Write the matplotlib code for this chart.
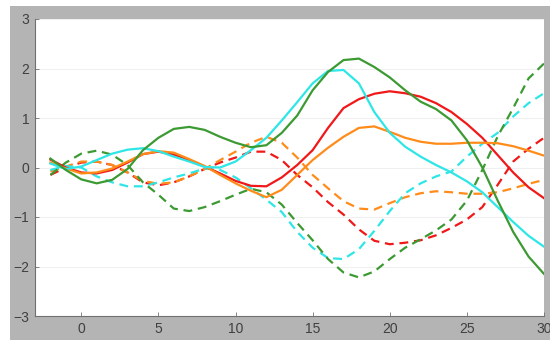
import numpy as np
import matplotlib
matplotlib.use("Agg")
import matplotlib.pyplot as plt
from matplotlib.patches import Rectangle

x = list(range(-2, 31))

red_solid = [0.16, 0.0, -0.1, -0.12, -0.05, 0.1, 0.27, 0.32, 0.26, 0.15, 0.02, -0.12, -0.27,
             -0.37, -0.38, -0.2, 0.05, 0.35, 0.8, 1.2, 1.38, 1.49, 1.54, 1.5, 1.43, 1.3, 1.12,
             0.88, 0.6, 0.25, -0.1, -0.4, -0.62]
orange_solid = [0.1, -0.02, -0.12, -0.1, -0.02, 0.12, 0.27, 0.33, 0.3, 0.17, 0.03, -0.15, -0.32,
                -0.47, -0.6, -0.45, -0.15, 0.15, 0.4, 0.62, 0.8, 0.83, 0.72, 0.6, 0.52, 0.48, 0.48,
                0.5, 0.5, 0.49, 0.43, 0.34, 0.24]
cyan_solid = [0.08, -0.03, 0.02, 0.15, 0.28, 0.36, 0.39, 0.33, 0.22, 0.12, 0.01, 0.0, 0.12,
              0.35, 0.6, 0.95, 1.32, 1.7, 1.95, 1.97, 1.7, 1.12, 0.7, 0.42, 0.22, 0.05, -0.1,
              -0.28, -0.5, -0.8, -1.1, -1.38, -1.6]
green_solid = [0.18, -0.05, -0.24, -0.32, -0.25, -0.03, 0.35, 0.6, 0.78, 0.82, 0.76, 0.62, 0.5,
               0.41, 0.45, 0.7, 1.05, 1.56, 1.93, 2.17, 2.2, 2.03, 1.82, 1.56, 1.33, 1.18, 0.95,
               0.55, 0.0, -0.67, -1.3, -1.8, -2.15]

red_dashed = [-0.15, 0.0, 0.1, 0.12, 0.05, -0.1, -0.3, -0.36, -0.3, -0.18, -0.03, 0.1, 0.2,
              0.32, 0.32, 0.15, -0.15, -0.4, -0.7, -0.95, -1.25, -1.48, -1.55, -1.52, -1.47,
              -1.37, -1.22, -1.05, -0.8, -0.35, 0.12, 0.38, 0.6]
orange_dashed = [-0.08, 0.02, 0.12, 0.12, 0.05, -0.1, -0.27, -0.33, -0.3, -0.18, -0.03, 0.15,
                 0.32, 0.5, 0.62, 0.5, 0.2, -0.15, -0.42, -0.68, -0.83, -0.85, -0.72, -0.6,
                 -0.52, -0.48, -0.5, -0.53, -0.53, -0.5, -0.42, -0.33, -0.25]
cyan_dashed = [-0.05, 0.03, 0.0, -0.18, -0.3, -0.38, -0.38, -0.3, -0.2, -0.12, -0.02, -0.05,
               -0.2, -0.42, -0.65, -0.9, -1.3, -1.62, -1.83, -1.85, -1.65, -1.28, -0.88, -0.52,
               -0.32, -0.18, -0.08, 0.22, 0.48, 0.7, 1.03, 1.3, 1.5]
green_dashed = [-0.15, 0.1, 0.28, 0.34, 0.26, 0.05, -0.3, -0.55, -0.83, -0.88, -0.8, -0.68,
                -0.55, -0.43, -0.5, -0.75, -1.12, -1.47, -1.85, -2.12, -2.22, -2.1, -1.85,
                -1.62, -1.45, -1.27, -1.05, -0.67, -0.05, 0.63, 1.2, 1.8, 2.1]

x_ticks = [0, 5, 10, 15, 20, 25, 30]
y_ticks = [-3, -2, -1, 0, 1, 2, 3]

colors = {"red": "#f01818", "orange": "#ff8c1a", "cyan": "#2ee6e6", "green": "#3c9a32"}

fig = plt.figure(figsize=(5.5, 3.4), dpi=100, facecolor="#b4b4b4")
# thin white margin along the top and left edges
fig.patches.append(Rectangle((0, (340 - 6) / 340), 1, 6 / 340, transform=fig.transFigure,
                             facecolor="white", edgecolor="none", zorder=-10))
fig.patches.append(Rectangle((0, 0), 10 / 550, 1, transform=fig.transFigure,
                             facecolor="white", edgecolor="none", zorder=-10))

ax = fig.add_axes([35 / 550, 24 / 340, 509 / 550, 297 / 340])
ax.set_facecolor("white")

series = [
    (red_dashed, "red", "--"), (orange_dashed, "orange", "--"),
    (cyan_dashed, "cyan", "--"), (green_dashed, "green", "--"),
    (red_solid, "red", "-"), (orange_solid, "orange", "-"),
    (cyan_solid, "cyan", "-"), (green_solid, "green", "-"),
]
for ys, c, ls in series:
    line, = ax.plot(x, ys, color=colors[c], linestyle=ls, linewidth=1.6,
                    solid_joinstyle="round")
    if ls == "--":
        line.set_dashes((4, 2.6))

ax.set_xlim(-3, 30)
ax.set_ylim(-3, 3)
ax.set_xticks(x_ticks)
ax.set_yticks(y_ticks)
ax.yaxis.grid(True, color="#f0f0f0", linewidth=0.8)
ax.set_axisbelow(True)

for s in ["top", "right"]:
    ax.spines[s].set_visible(False)
for s in ["left", "bottom"]:
    ax.spines[s].set_color("#707070")
    ax.spines[s].set_linewidth(0.8)

ax.tick_params(direction="in", length=3, width=0.6, color="#707070",
               labelcolor="#404040", labelsize=10, pad=4)
for lbl in ax.get_xticklabels() + ax.get_yticklabels():
    lbl.set_fontfamily("Liberation Sans")

fig.savefig("out.png", dpi=100, facecolor=fig.get_facecolor())
